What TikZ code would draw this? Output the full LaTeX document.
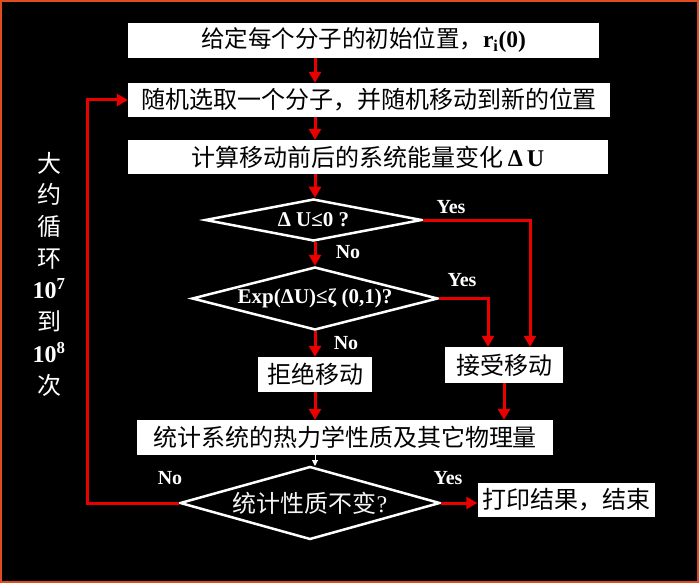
\documentclass[tikz,border=0pt]{standalone}
\usepackage{fontspec}
\setmainfont{Liberation Serif}
\newfontfamily\cjk{Noto Sans CJK SC}
\usetikzlibrary{arrows.meta,shapes.geometric}
\definecolor{ared}{RGB}{235,0,0}
\definecolor{framec}{RGB}{225,75,35}
\begin{document}
\begin{tikzpicture}[x=1pt,y=-1pt,
  box/.style={fill=white, inner sep=0pt, text=black, font=\fontsize{24}{24}\selectfont\cjk},
  dia/.style={diamond, draw=white, line width=2.5pt, inner sep=0pt},
  diatext/.style={text=white, font=\fontsize{21}{21}\selectfont\bfseries},
  lbl/.style={text=white, font=\fontsize{20}{20}\selectfont\bfseries},
  arr/.style={draw=ared, line width=3pt, -{Triangle[length=11pt,width=12pt]}},
  rline/.style={draw=ared, line width=3pt}]
\fill[black] (0,0) rectangle (699,583);
\draw[framec, line width=2pt] (1,1) rectangle (698,582);
\useasboundingbox (0,0) rectangle (699,583);

% boxes
\node[box, minimum width=471pt, minimum height=35pt, font=\fontsize{23.5}{23.5}\selectfont\cjk] (b1) at (363.5,40.5)
  {给定每个分子的初始位置，{\rmfamily\bfseries r\textsubscript{i}(0)}};
\node[box, minimum width=482pt, minimum height=34pt] (b2) at (369,100)
  {随机选取一个分子，并随机移动到新的位置};
\node[box, minimum width=480pt, minimum height=34pt] (b3) at (368,157)
  {计算移动前后的系统能量变化{\rmfamily\bfseries\,Δ\,U}};
\node[dia, minimum width=217pt, minimum height=42pt] (d1) at (313.5,220) {};
\node[diatext] (t1) at (d1.center) {Δ U≤0 ?};
\node[dia, minimum width=246pt, minimum height=63pt] (d2) at (315,298.5) {};
\node[diatext] (t2) at (d2.center) {Exp(ΔU)≤ζ (0,1)?};
\node[box, minimum width=114pt, minimum height=35pt] (rej) at (315,374.5) {拒绝移动};
\node[box, minimum width=118pt, minimum height=36pt] (acc) at (504,365) {接受移动};
\node[box, minimum width=416pt, minimum height=35pt] (stat) at (345,437.5)
  {统计系统的热力学性质及其它物理量};
\node[dia, minimum width=260pt, minimum height=73pt] (d3) at (310,503) {};
\node[text=white!92!gray, font=\fontsize{24}{24}\selectfont\cjk] (t3) at (d3.center)
  {统计性质不变{\rmfamily ?}};
\node[box, minimum width=177pt, minimum height=34pt] (end) at (566,499.5) {打印结果，结束};

% left text
\node[text=white, align=center, font=\fontsize{24}{31.7}\selectfont\cjk] (loop) at (49,274)
  {大\\约\\循\\环\\{\rmfamily\bfseries 10\textsuperscript{7}}\\到\\{\rmfamily\bfseries 10\textsuperscript{8}}\\次};

% labels
\node[lbl] (y1) at (451,207) {Yes};
\node[lbl] (n1) at (348,252) {No};
\node[lbl] (y2) at (462,280) {Yes};
\node[lbl] (n2) at (346,343) {No};
\node[lbl] (n3) at (170,478) {No};
\node[lbl] (y3) at (448,478) {Yes};

% connectors
\draw[arr] (b1.south -| d2.north) -- (b2.north -| d2.north);
\draw[arr] (b2.south -| d2.north) -- (b3.north -| d2.north);
\draw[arr] (b3.south -| d2.north) -- (d1.north -| d2.north);
\draw[arr] (d1.south -| d2.north) -- (d2.north);
\draw[arr] (d2.south) -- (rej.north);
\draw[arr] (d1.east) -| ([xshift=26pt]acc.north);
\draw[arr] (d2.east) -| ([xshift=-16pt]acc.north);
\draw[arr] (rej.south) -- (rej.south |- stat.north);
\draw[arr] (acc.south) -- (acc.south |- stat.north);
\draw[white, line width=1pt, -{Triangle[length=6pt,width=6pt]}] (stat.south -| 315,0) -- (315,466);
\draw[arr] (d3.east) -- (d3.east -| end.west);
\coordinate (lp) at (87,503);
\draw[arr] (d3.west) -- (lp) |- (b2.west);
\end{tikzpicture}
\end{document}
